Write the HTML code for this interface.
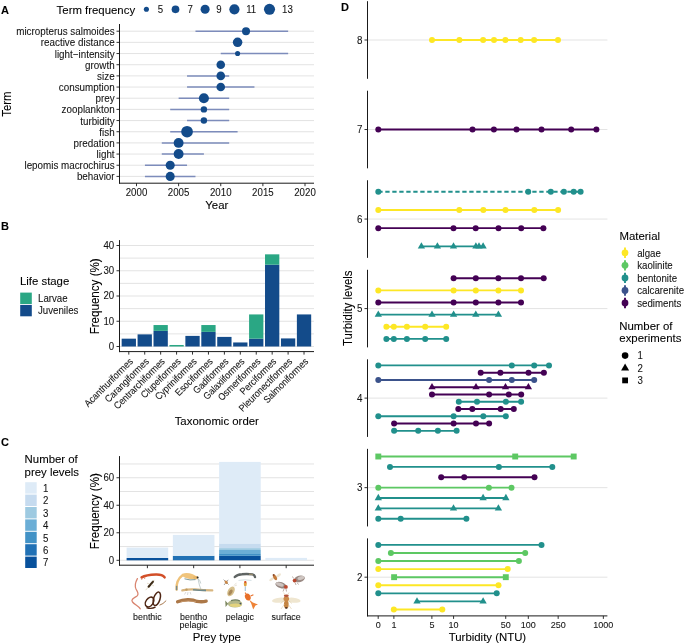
<!DOCTYPE html>
<html><head><meta charset="utf-8"><style>
html,body{margin:0;padding:0;background:#fff;}
svg{display:block;font-family:"Liberation Sans", sans-serif;will-change:transform;-webkit-font-smoothing:antialiased;}
</style></head><body>
<svg width="685" height="644" viewBox="0 0 685 644">
<rect width="685" height="644" fill="#fff"/>
<text transform="translate(1.00,13.90) scale(1,1.0)" font-size="11.0" text-anchor="start" fill="#000" font-weight="bold" stroke="#000" stroke-width="0.08" >A</text>
<text transform="translate(1.00,229.70) scale(1,1.0)" font-size="11.0" text-anchor="start" fill="#000" font-weight="bold" stroke="#000" stroke-width="0.08" >B</text>
<text transform="translate(1.00,445.70) scale(1,1.0)" font-size="11.0" text-anchor="start" fill="#000" font-weight="bold" stroke="#000" stroke-width="0.08" >C</text>
<text transform="translate(341.00,10.60) scale(1,1.0)" font-size="11.0" text-anchor="start" fill="#000" font-weight="bold" stroke="#000" stroke-width="0.08" >D</text>
<line x1="119.50" y1="31.20" x2="314.00" y2="31.20" stroke="#dcdcdc" stroke-width="0.8" />
<line x1="119.50" y1="42.37" x2="314.00" y2="42.37" stroke="#dcdcdc" stroke-width="0.8" />
<line x1="119.50" y1="53.54" x2="314.00" y2="53.54" stroke="#dcdcdc" stroke-width="0.8" />
<line x1="119.50" y1="64.71" x2="314.00" y2="64.71" stroke="#dcdcdc" stroke-width="0.8" />
<line x1="119.50" y1="75.88" x2="314.00" y2="75.88" stroke="#dcdcdc" stroke-width="0.8" />
<line x1="119.50" y1="87.05" x2="314.00" y2="87.05" stroke="#dcdcdc" stroke-width="0.8" />
<line x1="119.50" y1="98.22" x2="314.00" y2="98.22" stroke="#dcdcdc" stroke-width="0.8" />
<line x1="119.50" y1="109.39" x2="314.00" y2="109.39" stroke="#dcdcdc" stroke-width="0.8" />
<line x1="119.50" y1="120.56" x2="314.00" y2="120.56" stroke="#dcdcdc" stroke-width="0.8" />
<line x1="119.50" y1="131.73" x2="314.00" y2="131.73" stroke="#dcdcdc" stroke-width="0.8" />
<line x1="119.50" y1="142.90" x2="314.00" y2="142.90" stroke="#dcdcdc" stroke-width="0.8" />
<line x1="119.50" y1="154.07" x2="314.00" y2="154.07" stroke="#dcdcdc" stroke-width="0.8" />
<line x1="119.50" y1="165.24" x2="314.00" y2="165.24" stroke="#dcdcdc" stroke-width="0.8" />
<line x1="119.50" y1="176.41" x2="314.00" y2="176.41" stroke="#dcdcdc" stroke-width="0.8" />
<line x1="195.48" y1="31.20" x2="288.15" y2="31.20" stroke="#7d8cbb" stroke-width="1.5" />
<circle cx="246.03" cy="31.20" r="4.00" fill="#134b8a"/>
<text transform="translate(114.60,35.20) scale(1,1.12)" font-size="9.85" text-anchor="end" fill="#141414" font-weight="normal" stroke="#141414" stroke-width="0.08" >micropterus salmoides</text>
<line x1="116.50" y1="31.20" x2="119.50" y2="31.20" stroke="#1a1a1a" stroke-width="0.9" />
<circle cx="237.60" cy="42.37" r="4.75" fill="#134b8a"/>
<text transform="translate(114.60,46.37) scale(1,1.12)" font-size="9.85" text-anchor="end" fill="#141414" font-weight="normal" stroke="#141414" stroke-width="0.08" >reactive distance</text>
<line x1="116.50" y1="42.37" x2="119.50" y2="42.37" stroke="#1a1a1a" stroke-width="0.9" />
<line x1="220.75" y1="53.54" x2="288.15" y2="53.54" stroke="#7d8cbb" stroke-width="1.5" />
<circle cx="237.60" cy="53.54" r="2.55" fill="#134b8a"/>
<text transform="translate(114.60,57.54) scale(1,1.12)" font-size="9.85" text-anchor="end" fill="#141414" font-weight="normal" stroke="#141414" stroke-width="0.08" >light−intensity</text>
<line x1="116.50" y1="53.54" x2="119.50" y2="53.54" stroke="#1a1a1a" stroke-width="0.9" />
<circle cx="220.75" cy="64.71" r="4.30" fill="#134b8a"/>
<text transform="translate(114.60,68.71) scale(1,1.12)" font-size="9.85" text-anchor="end" fill="#141414" font-weight="normal" stroke="#141414" stroke-width="0.08" >growth</text>
<line x1="116.50" y1="64.71" x2="119.50" y2="64.71" stroke="#1a1a1a" stroke-width="0.9" />
<line x1="187.05" y1="75.88" x2="229.18" y2="75.88" stroke="#7d8cbb" stroke-width="1.5" />
<circle cx="220.75" cy="75.88" r="4.30" fill="#134b8a"/>
<text transform="translate(114.60,79.88) scale(1,1.12)" font-size="9.85" text-anchor="end" fill="#141414" font-weight="normal" stroke="#141414" stroke-width="0.08" >size</text>
<line x1="116.50" y1="75.88" x2="119.50" y2="75.88" stroke="#1a1a1a" stroke-width="0.9" />
<line x1="187.05" y1="87.05" x2="254.45" y2="87.05" stroke="#7d8cbb" stroke-width="1.5" />
<circle cx="220.75" cy="87.05" r="4.30" fill="#134b8a"/>
<text transform="translate(114.60,91.05) scale(1,1.12)" font-size="9.85" text-anchor="end" fill="#141414" font-weight="normal" stroke="#141414" stroke-width="0.08" >consumption</text>
<line x1="116.50" y1="87.05" x2="119.50" y2="87.05" stroke="#1a1a1a" stroke-width="0.9" />
<line x1="178.62" y1="98.22" x2="229.18" y2="98.22" stroke="#7d8cbb" stroke-width="1.5" />
<circle cx="203.90" cy="98.22" r="5.05" fill="#134b8a"/>
<text transform="translate(114.60,102.22) scale(1,1.12)" font-size="9.85" text-anchor="end" fill="#141414" font-weight="normal" stroke="#141414" stroke-width="0.08" >prey</text>
<line x1="116.50" y1="98.22" x2="119.50" y2="98.22" stroke="#1a1a1a" stroke-width="0.9" />
<line x1="170.20" y1="109.39" x2="229.18" y2="109.39" stroke="#7d8cbb" stroke-width="1.5" />
<circle cx="203.90" cy="109.39" r="3.20" fill="#134b8a"/>
<text transform="translate(114.60,113.39) scale(1,1.12)" font-size="9.85" text-anchor="end" fill="#141414" font-weight="normal" stroke="#141414" stroke-width="0.08" >zooplankton</text>
<line x1="116.50" y1="109.39" x2="119.50" y2="109.39" stroke="#1a1a1a" stroke-width="0.9" />
<line x1="187.05" y1="120.56" x2="229.18" y2="120.56" stroke="#7d8cbb" stroke-width="1.5" />
<circle cx="203.90" cy="120.56" r="3.20" fill="#134b8a"/>
<text transform="translate(114.60,124.56) scale(1,1.12)" font-size="9.85" text-anchor="end" fill="#141414" font-weight="normal" stroke="#141414" stroke-width="0.08" >turbidity</text>
<line x1="116.50" y1="120.56" x2="119.50" y2="120.56" stroke="#1a1a1a" stroke-width="0.9" />
<line x1="170.20" y1="131.73" x2="237.60" y2="131.73" stroke="#7d8cbb" stroke-width="1.5" />
<circle cx="187.05" cy="131.73" r="5.85" fill="#134b8a"/>
<text transform="translate(114.60,135.73) scale(1,1.12)" font-size="9.85" text-anchor="end" fill="#141414" font-weight="normal" stroke="#141414" stroke-width="0.08" >fish</text>
<line x1="116.50" y1="131.73" x2="119.50" y2="131.73" stroke="#1a1a1a" stroke-width="0.9" />
<line x1="161.78" y1="142.90" x2="229.18" y2="142.90" stroke="#7d8cbb" stroke-width="1.5" />
<circle cx="178.62" cy="142.90" r="4.95" fill="#134b8a"/>
<text transform="translate(114.60,146.90) scale(1,1.12)" font-size="9.85" text-anchor="end" fill="#141414" font-weight="normal" stroke="#141414" stroke-width="0.08" >predation</text>
<line x1="116.50" y1="142.90" x2="119.50" y2="142.90" stroke="#1a1a1a" stroke-width="0.9" />
<line x1="161.78" y1="154.07" x2="203.90" y2="154.07" stroke="#7d8cbb" stroke-width="1.5" />
<circle cx="178.62" cy="154.07" r="4.95" fill="#134b8a"/>
<text transform="translate(114.60,158.07) scale(1,1.12)" font-size="9.85" text-anchor="end" fill="#141414" font-weight="normal" stroke="#141414" stroke-width="0.08" >light</text>
<line x1="116.50" y1="154.07" x2="119.50" y2="154.07" stroke="#1a1a1a" stroke-width="0.9" />
<line x1="144.93" y1="165.24" x2="187.05" y2="165.24" stroke="#7d8cbb" stroke-width="1.5" />
<circle cx="170.20" cy="165.24" r="4.55" fill="#134b8a"/>
<text transform="translate(114.60,169.24) scale(1,1.12)" font-size="9.85" text-anchor="end" fill="#141414" font-weight="normal" stroke="#141414" stroke-width="0.08" >lepomis macrochirus</text>
<line x1="116.50" y1="165.24" x2="119.50" y2="165.24" stroke="#1a1a1a" stroke-width="0.9" />
<line x1="144.93" y1="176.41" x2="195.48" y2="176.41" stroke="#7d8cbb" stroke-width="1.5" />
<circle cx="170.20" cy="176.41" r="4.55" fill="#134b8a"/>
<text transform="translate(114.60,180.41) scale(1,1.12)" font-size="9.85" text-anchor="end" fill="#141414" font-weight="normal" stroke="#141414" stroke-width="0.08" >behavior</text>
<line x1="116.50" y1="176.41" x2="119.50" y2="176.41" stroke="#1a1a1a" stroke-width="0.9" />
<line x1="119.50" y1="24.00" x2="119.50" y2="183.70" stroke="#1a1a1a" stroke-width="1.0" />
<line x1="119.00" y1="183.20" x2="314.00" y2="183.20" stroke="#1a1a1a" stroke-width="1.0" />
<line x1="136.50" y1="183.20" x2="136.50" y2="186.20" stroke="#1a1a1a" stroke-width="0.9" />
<text transform="translate(136.50,195.80) scale(1,1.12)" font-size="9.7" text-anchor="middle" fill="#141414" font-weight="normal" stroke="#141414" stroke-width="0.08" >2000</text>
<line x1="178.62" y1="183.20" x2="178.62" y2="186.20" stroke="#1a1a1a" stroke-width="0.9" />
<text transform="translate(178.62,195.80) scale(1,1.12)" font-size="9.7" text-anchor="middle" fill="#141414" font-weight="normal" stroke="#141414" stroke-width="0.08" >2005</text>
<line x1="220.75" y1="183.20" x2="220.75" y2="186.20" stroke="#1a1a1a" stroke-width="0.9" />
<text transform="translate(220.75,195.80) scale(1,1.12)" font-size="9.7" text-anchor="middle" fill="#141414" font-weight="normal" stroke="#141414" stroke-width="0.08" >2010</text>
<line x1="262.88" y1="183.20" x2="262.88" y2="186.20" stroke="#1a1a1a" stroke-width="0.9" />
<text transform="translate(262.88,195.80) scale(1,1.12)" font-size="9.7" text-anchor="middle" fill="#141414" font-weight="normal" stroke="#141414" stroke-width="0.08" >2015</text>
<line x1="305.00" y1="183.20" x2="305.00" y2="186.20" stroke="#1a1a1a" stroke-width="0.9" />
<text transform="translate(305.00,195.80) scale(1,1.12)" font-size="9.7" text-anchor="middle" fill="#141414" font-weight="normal" stroke="#141414" stroke-width="0.08" >2020</text>
<text transform="translate(216.75,209.00) scale(1,1.0)" font-size="11.4" text-anchor="middle" fill="#000" font-weight="normal" stroke="#000" stroke-width="0.08" >Year</text>
<text transform="translate(10.6,104.1) rotate(-90) scale(1,1.12)" font-size="11.4" text-anchor="middle" fill="#000" stroke="#000" stroke-width="0.08">Term</text>
<text transform="translate(56.60,13.80) scale(1,1.0)" font-size="11.4" text-anchor="start" fill="#000" font-weight="normal" stroke="#000" stroke-width="0.08" >Term frequency</text>
<circle cx="146.40" cy="9.30" r="2.55" fill="#134b8a"/>
<text transform="translate(157.80,13.00) scale(1,1.12)" font-size="9.7" text-anchor="start" fill="#141414" font-weight="normal" stroke="#141414" stroke-width="0.08" >5</text>
<circle cx="175.50" cy="9.30" r="3.85" fill="#134b8a"/>
<text transform="translate(187.40,13.00) scale(1,1.12)" font-size="9.7" text-anchor="start" fill="#141414" font-weight="normal" stroke="#141414" stroke-width="0.08" >7</text>
<circle cx="205.10" cy="9.30" r="4.53" fill="#134b8a"/>
<text transform="translate(216.30,13.00) scale(1,1.12)" font-size="9.7" text-anchor="start" fill="#141414" font-weight="normal" stroke="#141414" stroke-width="0.08" >9</text>
<circle cx="234.40" cy="9.30" r="5.10" fill="#134b8a"/>
<text transform="translate(246.20,13.00) scale(1,1.12)" font-size="9.7" text-anchor="start" fill="#141414" font-weight="normal" stroke="#141414" stroke-width="0.08" >11</text>
<circle cx="269.50" cy="9.30" r="5.55" fill="#134b8a"/>
<text transform="translate(282.00,13.00) scale(1,1.12)" font-size="9.7" text-anchor="start" fill="#141414" font-weight="normal" stroke="#141414" stroke-width="0.08" >13</text>
<line x1="119.50" y1="346.50" x2="314.00" y2="346.50" stroke="#dcdcdc" stroke-width="0.8" />
<line x1="119.50" y1="333.88" x2="314.00" y2="333.88" stroke="#dcdcdc" stroke-width="0.8" />
<line x1="119.50" y1="321.25" x2="314.00" y2="321.25" stroke="#dcdcdc" stroke-width="0.8" />
<line x1="119.50" y1="308.62" x2="314.00" y2="308.62" stroke="#dcdcdc" stroke-width="0.8" />
<line x1="119.50" y1="296.00" x2="314.00" y2="296.00" stroke="#dcdcdc" stroke-width="0.8" />
<line x1="119.50" y1="283.38" x2="314.00" y2="283.38" stroke="#dcdcdc" stroke-width="0.8" />
<line x1="119.50" y1="270.75" x2="314.00" y2="270.75" stroke="#dcdcdc" stroke-width="0.8" />
<line x1="119.50" y1="258.12" x2="314.00" y2="258.12" stroke="#dcdcdc" stroke-width="0.8" />
<line x1="119.50" y1="245.50" x2="314.00" y2="245.50" stroke="#dcdcdc" stroke-width="0.8" />
<rect x="121.65" y="338.67" width="14.30" height="7.83" fill="#134b8a"/>
<rect x="137.58" y="334.38" width="14.30" height="12.12" fill="#134b8a"/>
<rect x="153.51" y="330.85" width="14.30" height="15.65" fill="#134b8a"/>
<rect x="153.51" y="325.04" width="14.30" height="5.81" fill="#2aa784"/>
<rect x="169.44" y="344.99" width="14.30" height="1.51" fill="#2aa784"/>
<rect x="185.37" y="335.89" width="14.30" height="10.61" fill="#134b8a"/>
<rect x="201.30" y="331.86" width="14.30" height="14.64" fill="#134b8a"/>
<rect x="201.30" y="325.04" width="14.30" height="6.82" fill="#2aa784"/>
<rect x="217.23" y="336.90" width="14.30" height="9.60" fill="#134b8a"/>
<rect x="233.16" y="342.46" width="14.30" height="4.04" fill="#134b8a"/>
<rect x="249.09" y="338.67" width="14.30" height="7.83" fill="#134b8a"/>
<rect x="249.09" y="314.43" width="14.30" height="24.24" fill="#2aa784"/>
<rect x="265.02" y="264.69" width="14.30" height="81.81" fill="#134b8a"/>
<rect x="265.02" y="254.34" width="14.30" height="10.35" fill="#2aa784"/>
<rect x="280.95" y="338.42" width="14.30" height="8.08" fill="#134b8a"/>
<rect x="296.88" y="314.43" width="14.30" height="32.07" fill="#134b8a"/>
<line x1="116.50" y1="346.50" x2="119.50" y2="346.50" stroke="#1a1a1a" stroke-width="0.9" />
<text transform="translate(114.20,349.90) scale(1,1.12)" font-size="9.7" text-anchor="end" fill="#141414" font-weight="normal" stroke="#141414" stroke-width="0.08" >0</text>
<line x1="116.50" y1="321.25" x2="119.50" y2="321.25" stroke="#1a1a1a" stroke-width="0.9" />
<text transform="translate(114.20,324.65) scale(1,1.12)" font-size="9.7" text-anchor="end" fill="#141414" font-weight="normal" stroke="#141414" stroke-width="0.08" >10</text>
<line x1="116.50" y1="296.00" x2="119.50" y2="296.00" stroke="#1a1a1a" stroke-width="0.9" />
<text transform="translate(114.20,299.40) scale(1,1.12)" font-size="9.7" text-anchor="end" fill="#141414" font-weight="normal" stroke="#141414" stroke-width="0.08" >20</text>
<line x1="116.50" y1="270.75" x2="119.50" y2="270.75" stroke="#1a1a1a" stroke-width="0.9" />
<text transform="translate(114.20,274.15) scale(1,1.12)" font-size="9.7" text-anchor="end" fill="#141414" font-weight="normal" stroke="#141414" stroke-width="0.08" >30</text>
<line x1="116.50" y1="245.50" x2="119.50" y2="245.50" stroke="#1a1a1a" stroke-width="0.9" />
<text transform="translate(114.20,248.90) scale(1,1.12)" font-size="9.7" text-anchor="end" fill="#141414" font-weight="normal" stroke="#141414" stroke-width="0.08" >40</text>
<line x1="119.50" y1="240.10" x2="119.50" y2="352.10" stroke="#1a1a1a" stroke-width="1.0" />
<line x1="119.00" y1="351.60" x2="314.00" y2="351.60" stroke="#1a1a1a" stroke-width="1.0" />
<line x1="128.80" y1="351.60" x2="128.80" y2="354.60" stroke="#1a1a1a" stroke-width="0.9" />
<text transform="translate(133.60,362.20) rotate(-45) scale(1,1.12)" font-size="8.8" text-anchor="end" fill="#141414" stroke="#141414" stroke-width="0.08">Acanthuriformes</text>
<line x1="144.73" y1="351.60" x2="144.73" y2="354.60" stroke="#1a1a1a" stroke-width="0.9" />
<text transform="translate(149.53,362.20) rotate(-45) scale(1,1.12)" font-size="8.8" text-anchor="end" fill="#141414" stroke="#141414" stroke-width="0.08">Carangiformes</text>
<line x1="160.66" y1="351.60" x2="160.66" y2="354.60" stroke="#1a1a1a" stroke-width="0.9" />
<text transform="translate(165.46,362.20) rotate(-45) scale(1,1.12)" font-size="8.8" text-anchor="end" fill="#141414" stroke="#141414" stroke-width="0.08">Centrarchiformes</text>
<line x1="176.59" y1="351.60" x2="176.59" y2="354.60" stroke="#1a1a1a" stroke-width="0.9" />
<text transform="translate(181.39,362.20) rotate(-45) scale(1,1.12)" font-size="8.8" text-anchor="end" fill="#141414" stroke="#141414" stroke-width="0.08">Clupeiformes</text>
<line x1="192.52" y1="351.60" x2="192.52" y2="354.60" stroke="#1a1a1a" stroke-width="0.9" />
<text transform="translate(197.32,362.20) rotate(-45) scale(1,1.12)" font-size="8.8" text-anchor="end" fill="#141414" stroke="#141414" stroke-width="0.08">Cypriniformes</text>
<line x1="208.45" y1="351.60" x2="208.45" y2="354.60" stroke="#1a1a1a" stroke-width="0.9" />
<text transform="translate(213.25,362.20) rotate(-45) scale(1,1.12)" font-size="8.8" text-anchor="end" fill="#141414" stroke="#141414" stroke-width="0.08">Esociformes</text>
<line x1="224.38" y1="351.60" x2="224.38" y2="354.60" stroke="#1a1a1a" stroke-width="0.9" />
<text transform="translate(229.18,362.20) rotate(-45) scale(1,1.12)" font-size="8.8" text-anchor="end" fill="#141414" stroke="#141414" stroke-width="0.08">Gadiformes</text>
<line x1="240.31" y1="351.60" x2="240.31" y2="354.60" stroke="#1a1a1a" stroke-width="0.9" />
<text transform="translate(245.11,362.20) rotate(-45) scale(1,1.12)" font-size="8.8" text-anchor="end" fill="#141414" stroke="#141414" stroke-width="0.08">Galaxiiformes</text>
<line x1="256.24" y1="351.60" x2="256.24" y2="354.60" stroke="#1a1a1a" stroke-width="0.9" />
<text transform="translate(261.04,362.20) rotate(-45) scale(1,1.12)" font-size="8.8" text-anchor="end" fill="#141414" stroke="#141414" stroke-width="0.08">Osmeriformes</text>
<line x1="272.17" y1="351.60" x2="272.17" y2="354.60" stroke="#1a1a1a" stroke-width="0.9" />
<text transform="translate(276.97,362.20) rotate(-45) scale(1,1.12)" font-size="8.8" text-anchor="end" fill="#141414" stroke="#141414" stroke-width="0.08">Perciformes</text>
<line x1="288.10" y1="351.60" x2="288.10" y2="354.60" stroke="#1a1a1a" stroke-width="0.9" />
<text transform="translate(292.90,362.20) rotate(-45) scale(1,1.12)" font-size="8.8" text-anchor="end" fill="#141414" stroke="#141414" stroke-width="0.08">Pleuronectiformes</text>
<line x1="304.03" y1="351.60" x2="304.03" y2="354.60" stroke="#1a1a1a" stroke-width="0.9" />
<text transform="translate(308.83,362.20) rotate(-45) scale(1,1.12)" font-size="8.8" text-anchor="end" fill="#141414" stroke="#141414" stroke-width="0.08">Salmoniformes</text>
<text transform="translate(216.75,425.20) scale(1,1.0)" font-size="11.4" text-anchor="middle" fill="#000" font-weight="normal" stroke="#000" stroke-width="0.08" >Taxonomic order</text>
<text transform="translate(98.6,296.35) rotate(-90) scale(1,1.08)" font-size="11.6" text-anchor="middle" fill="#000" stroke="#000" stroke-width="0.08">Frequency (%)</text>
<text transform="translate(19.90,284.80) scale(1,1.0)" font-size="11.4" text-anchor="start" fill="#000" font-weight="normal" stroke="#000" stroke-width="0.08" >Life stage</text>
<rect x="20.20" y="292.60" width="11.60" height="11.40" fill="#2aa784"/>
<rect x="20.20" y="304.90" width="11.60" height="11.40" fill="#134b8a"/>
<text transform="translate(38.00,301.60) scale(1,1.12)" font-size="9.7" text-anchor="start" fill="#141414" font-weight="normal" stroke="#141414" stroke-width="0.08" >Larvae</text>
<text transform="translate(38.00,313.80) scale(1,1.12)" font-size="9.7" text-anchor="start" fill="#141414" font-weight="normal" stroke="#141414" stroke-width="0.08" >Juveniles</text>
<line x1="119.50" y1="560.30" x2="314.00" y2="560.30" stroke="#dcdcdc" stroke-width="0.8" />
<line x1="119.50" y1="546.54" x2="314.00" y2="546.54" stroke="#dcdcdc" stroke-width="0.8" />
<line x1="119.50" y1="532.78" x2="314.00" y2="532.78" stroke="#dcdcdc" stroke-width="0.8" />
<line x1="119.50" y1="519.02" x2="314.00" y2="519.02" stroke="#dcdcdc" stroke-width="0.8" />
<line x1="119.50" y1="505.26" x2="314.00" y2="505.26" stroke="#dcdcdc" stroke-width="0.8" />
<line x1="119.50" y1="491.50" x2="314.00" y2="491.50" stroke="#dcdcdc" stroke-width="0.8" />
<line x1="119.50" y1="477.74" x2="314.00" y2="477.74" stroke="#dcdcdc" stroke-width="0.8" />
<line x1="119.50" y1="463.98" x2="314.00" y2="463.98" stroke="#dcdcdc" stroke-width="0.8" />
<rect x="126.60" y="558.00" width="41.60" height="2.30" fill="#08519c"/>
<rect x="126.60" y="547.60" width="41.60" height="10.40" fill="#deebf7"/>
<rect x="172.86" y="555.80" width="41.60" height="4.50" fill="#2171b5"/>
<rect x="172.86" y="534.90" width="41.60" height="20.90" fill="#deebf7"/>
<rect x="219.12" y="555.80" width="41.60" height="4.50" fill="#08519c"/>
<rect x="219.12" y="554.00" width="41.60" height="1.80" fill="#4292c6"/>
<rect x="219.12" y="550.00" width="41.60" height="4.00" fill="#6baed6"/>
<rect x="219.12" y="548.10" width="41.60" height="1.90" fill="#9ecae1"/>
<rect x="219.12" y="543.40" width="41.60" height="4.70" fill="#c6dbef"/>
<rect x="219.12" y="461.90" width="41.60" height="81.50" fill="#deebf7"/>
<rect x="265.38" y="557.90" width="41.60" height="2.40" fill="#deebf7"/>
<line x1="116.50" y1="560.30" x2="119.50" y2="560.30" stroke="#1a1a1a" stroke-width="0.9" />
<text transform="translate(114.20,563.70) scale(1,1.12)" font-size="9.7" text-anchor="end" fill="#141414" font-weight="normal" stroke="#141414" stroke-width="0.08" >0</text>
<line x1="116.50" y1="532.78" x2="119.50" y2="532.78" stroke="#1a1a1a" stroke-width="0.9" />
<text transform="translate(114.20,536.18) scale(1,1.12)" font-size="9.7" text-anchor="end" fill="#141414" font-weight="normal" stroke="#141414" stroke-width="0.08" >20</text>
<line x1="116.50" y1="505.26" x2="119.50" y2="505.26" stroke="#1a1a1a" stroke-width="0.9" />
<text transform="translate(114.20,508.66) scale(1,1.12)" font-size="9.7" text-anchor="end" fill="#141414" font-weight="normal" stroke="#141414" stroke-width="0.08" >40</text>
<line x1="116.50" y1="477.74" x2="119.50" y2="477.74" stroke="#1a1a1a" stroke-width="0.9" />
<text transform="translate(114.20,481.14) scale(1,1.12)" font-size="9.7" text-anchor="end" fill="#141414" font-weight="normal" stroke="#141414" stroke-width="0.08" >60</text>
<line x1="119.50" y1="456.10" x2="119.50" y2="565.70" stroke="#1a1a1a" stroke-width="1.0" />
<line x1="119.00" y1="565.20" x2="314.00" y2="565.20" stroke="#1a1a1a" stroke-width="1.0" />
<line x1="147.40" y1="565.20" x2="147.40" y2="568.20" stroke="#1a1a1a" stroke-width="0.9" />
<line x1="193.66" y1="565.20" x2="193.66" y2="568.20" stroke="#1a1a1a" stroke-width="0.9" />
<line x1="239.92" y1="565.20" x2="239.92" y2="568.20" stroke="#1a1a1a" stroke-width="0.9" />
<line x1="286.18" y1="565.20" x2="286.18" y2="568.20" stroke="#1a1a1a" stroke-width="0.9" />
<text transform="translate(147.40,619.60) scale(1,1.12)" font-size="8.9" text-anchor="middle" fill="#141414" font-weight="normal" stroke="#141414" stroke-width="0.08" >benthic</text>
<text transform="translate(193.66,619.50) scale(1,1.12)" font-size="8.9" text-anchor="middle" fill="#141414" font-weight="normal" stroke="#141414" stroke-width="0.08" >bentho</text>
<text transform="translate(193.66,628.10) scale(1,1.12)" font-size="8.9" text-anchor="middle" fill="#141414" font-weight="normal" stroke="#141414" stroke-width="0.08" >pelagic</text>
<text transform="translate(239.92,619.60) scale(1,1.12)" font-size="8.9" text-anchor="middle" fill="#141414" font-weight="normal" stroke="#141414" stroke-width="0.08" >pelagic</text>
<text transform="translate(286.18,619.60) scale(1,1.12)" font-size="8.9" text-anchor="middle" fill="#141414" font-weight="normal" stroke="#141414" stroke-width="0.08" >surface</text>
<text transform="translate(216.75,640.60) scale(1,1.0)" font-size="11.4" text-anchor="middle" fill="#000" font-weight="normal" stroke="#000" stroke-width="0.08" >Prey type</text>
<text transform="translate(98.6,511.15) rotate(-90) scale(1,1.08)" font-size="11.6" text-anchor="middle" fill="#000" stroke="#000" stroke-width="0.08">Frequency (%)</text>
<text transform="translate(24.60,462.70) scale(1,1.0)" font-size="11.4" text-anchor="start" fill="#000" font-weight="normal" stroke="#000" stroke-width="0.08" >Number of</text>
<text transform="translate(24.60,475.60) scale(1,1.0)" font-size="11.4" text-anchor="start" fill="#000" font-weight="normal" stroke="#000" stroke-width="0.08" >prey levels</text>
<rect x="25.20" y="482.20" width="11.50" height="11.40" fill="#deebf7"/>
<text transform="translate(43.00,491.90) scale(1,1.12)" font-size="9.7" text-anchor="start" fill="#141414" font-weight="normal" stroke="#141414" stroke-width="0.08" >1</text>
<rect x="25.20" y="494.60" width="11.50" height="11.40" fill="#c6dbef"/>
<text transform="translate(43.00,504.30) scale(1,1.12)" font-size="9.7" text-anchor="start" fill="#141414" font-weight="normal" stroke="#141414" stroke-width="0.08" >2</text>
<rect x="25.20" y="507.00" width="11.50" height="11.40" fill="#9ecae1"/>
<text transform="translate(43.00,516.70) scale(1,1.12)" font-size="9.7" text-anchor="start" fill="#141414" font-weight="normal" stroke="#141414" stroke-width="0.08" >3</text>
<rect x="25.20" y="519.40" width="11.50" height="11.40" fill="#6baed6"/>
<text transform="translate(43.00,529.10) scale(1,1.12)" font-size="9.7" text-anchor="start" fill="#141414" font-weight="normal" stroke="#141414" stroke-width="0.08" >4</text>
<rect x="25.20" y="531.80" width="11.50" height="11.40" fill="#4292c6"/>
<text transform="translate(43.00,541.50) scale(1,1.12)" font-size="9.7" text-anchor="start" fill="#141414" font-weight="normal" stroke="#141414" stroke-width="0.08" >5</text>
<rect x="25.20" y="544.20" width="11.50" height="11.40" fill="#2171b5"/>
<text transform="translate(43.00,553.90) scale(1,1.12)" font-size="9.7" text-anchor="start" fill="#141414" font-weight="normal" stroke="#141414" stroke-width="0.08" >6</text>
<rect x="25.20" y="556.60" width="11.50" height="11.40" fill="#08519c"/>
<text transform="translate(43.00,566.30) scale(1,1.12)" font-size="9.7" text-anchor="start" fill="#141414" font-weight="normal" stroke="#141414" stroke-width="0.08" >7</text>
<line x1="368.00" y1="40.00" x2="607.40" y2="40.00" stroke="#dcdcdc" stroke-width="0.8" />
<line x1="368.00" y1="129.53" x2="607.40" y2="129.53" stroke="#dcdcdc" stroke-width="0.8" />
<line x1="368.00" y1="219.06" x2="607.40" y2="219.06" stroke="#dcdcdc" stroke-width="0.8" />
<line x1="368.00" y1="308.59" x2="607.40" y2="308.59" stroke="#dcdcdc" stroke-width="0.8" />
<line x1="368.00" y1="398.12" x2="607.40" y2="398.12" stroke="#dcdcdc" stroke-width="0.8" />
<line x1="368.00" y1="487.65" x2="607.40" y2="487.65" stroke="#dcdcdc" stroke-width="0.8" />
<line x1="368.00" y1="577.18" x2="607.40" y2="577.18" stroke="#dcdcdc" stroke-width="0.8" />
<line x1="432.00" y1="40.00" x2="558.00" y2="40.00" stroke="#fde725" stroke-width="1.9" />
<circle cx="432.00" cy="40.00" r="3.00" fill="#fde725"/>
<circle cx="459.40" cy="40.00" r="3.00" fill="#fde725"/>
<circle cx="483.10" cy="40.00" r="3.00" fill="#fde725"/>
<circle cx="494.00" cy="40.00" r="3.00" fill="#fde725"/>
<circle cx="505.40" cy="40.00" r="3.00" fill="#fde725"/>
<circle cx="520.70" cy="40.00" r="3.00" fill="#fde725"/>
<circle cx="534.10" cy="40.00" r="3.00" fill="#fde725"/>
<circle cx="558.00" cy="40.00" r="3.00" fill="#fde725"/>
<line x1="378.30" y1="129.53" x2="596.40" y2="129.53" stroke="#440154" stroke-width="1.9" />
<circle cx="378.30" cy="129.53" r="3.00" fill="#440154"/>
<circle cx="472.50" cy="129.53" r="3.00" fill="#440154"/>
<circle cx="493.90" cy="129.53" r="3.00" fill="#440154"/>
<circle cx="516.50" cy="129.53" r="3.00" fill="#440154"/>
<circle cx="541.50" cy="129.53" r="3.00" fill="#440154"/>
<circle cx="571.20" cy="129.53" r="3.00" fill="#440154"/>
<circle cx="596.40" cy="129.53" r="3.00" fill="#440154"/>
<line x1="378.30" y1="191.76" x2="580.60" y2="191.76" stroke="#21908c" stroke-width="1.9" stroke-dasharray="4.3 2.7"/>
<circle cx="378.30" cy="191.76" r="3.00" fill="#21908c"/>
<circle cx="528.20" cy="191.76" r="3.00" fill="#21908c"/>
<circle cx="550.80" cy="191.76" r="3.00" fill="#21908c"/>
<circle cx="563.90" cy="191.76" r="3.00" fill="#21908c"/>
<circle cx="573.70" cy="191.76" r="3.00" fill="#21908c"/>
<circle cx="580.60" cy="191.76" r="3.00" fill="#21908c"/>
<line x1="378.30" y1="209.96" x2="558.10" y2="209.96" stroke="#fde725" stroke-width="1.9" />
<circle cx="378.30" cy="209.96" r="3.00" fill="#fde725"/>
<circle cx="459.30" cy="209.96" r="3.00" fill="#fde725"/>
<circle cx="483.30" cy="209.96" r="3.00" fill="#fde725"/>
<circle cx="505.50" cy="209.96" r="3.00" fill="#fde725"/>
<circle cx="534.30" cy="209.96" r="3.00" fill="#fde725"/>
<circle cx="558.10" cy="209.96" r="3.00" fill="#fde725"/>
<line x1="378.30" y1="228.16" x2="543.40" y2="228.16" stroke="#440154" stroke-width="1.9" />
<circle cx="378.30" cy="228.16" r="3.00" fill="#440154"/>
<circle cx="453.50" cy="228.16" r="3.00" fill="#440154"/>
<circle cx="475.70" cy="228.16" r="3.00" fill="#440154"/>
<circle cx="498.50" cy="228.16" r="3.00" fill="#440154"/>
<circle cx="521.20" cy="228.16" r="3.00" fill="#440154"/>
<circle cx="543.40" cy="228.16" r="3.00" fill="#440154"/>
<line x1="421.40" y1="246.36" x2="483.10" y2="246.36" stroke="#21908c" stroke-width="1.9" />
<polygon points="421.40,242.16 425.04,248.46 417.76,248.46" fill="#21908c"/>
<polygon points="437.40,242.16 441.04,248.46 433.76,248.46" fill="#21908c"/>
<polygon points="453.50,242.16 457.14,248.46 449.86,248.46" fill="#21908c"/>
<polygon points="475.90,242.16 479.54,248.46 472.26,248.46" fill="#21908c"/>
<polygon points="479.00,242.16 482.64,248.46 475.36,248.46" fill="#21908c"/>
<polygon points="483.10,242.16 486.74,248.46 479.46,248.46" fill="#21908c"/>
<line x1="453.60" y1="278.29" x2="543.70" y2="278.29" stroke="#440154" stroke-width="1.9" />
<circle cx="453.60" cy="278.29" r="3.00" fill="#440154"/>
<circle cx="475.80" cy="278.29" r="3.00" fill="#440154"/>
<circle cx="498.40" cy="278.29" r="3.00" fill="#440154"/>
<circle cx="521.00" cy="278.29" r="3.00" fill="#440154"/>
<circle cx="543.70" cy="278.29" r="3.00" fill="#440154"/>
<line x1="378.30" y1="290.41" x2="521.00" y2="290.41" stroke="#fde725" stroke-width="1.9" />
<circle cx="378.30" cy="290.41" r="3.00" fill="#fde725"/>
<circle cx="453.60" cy="290.41" r="3.00" fill="#fde725"/>
<circle cx="475.80" cy="290.41" r="3.00" fill="#fde725"/>
<circle cx="498.40" cy="290.41" r="3.00" fill="#fde725"/>
<circle cx="521.00" cy="290.41" r="3.00" fill="#fde725"/>
<line x1="378.30" y1="302.53" x2="521.00" y2="302.53" stroke="#440154" stroke-width="1.9" />
<circle cx="378.30" cy="302.53" r="3.00" fill="#440154"/>
<circle cx="453.60" cy="302.53" r="3.00" fill="#440154"/>
<circle cx="475.80" cy="302.53" r="3.00" fill="#440154"/>
<circle cx="498.40" cy="302.53" r="3.00" fill="#440154"/>
<circle cx="521.00" cy="302.53" r="3.00" fill="#440154"/>
<line x1="378.30" y1="314.65" x2="498.40" y2="314.65" stroke="#21908c" stroke-width="1.9" />
<polygon points="378.30,310.45 381.94,316.75 374.66,316.75" fill="#21908c"/>
<polygon points="432.00,310.45 435.64,316.75 428.36,316.75" fill="#21908c"/>
<polygon points="453.60,310.45 457.24,316.75 449.96,316.75" fill="#21908c"/>
<polygon points="475.80,310.45 479.44,316.75 472.16,316.75" fill="#21908c"/>
<polygon points="498.40,310.45 502.04,316.75 494.76,316.75" fill="#21908c"/>
<line x1="386.40" y1="326.77" x2="446.20" y2="326.77" stroke="#fde725" stroke-width="1.9" />
<circle cx="386.40" cy="326.77" r="3.00" fill="#fde725"/>
<circle cx="393.80" cy="326.77" r="3.00" fill="#fde725"/>
<circle cx="406.90" cy="326.77" r="3.00" fill="#fde725"/>
<circle cx="425.20" cy="326.77" r="3.00" fill="#fde725"/>
<circle cx="446.20" cy="326.77" r="3.00" fill="#fde725"/>
<line x1="386.40" y1="338.89" x2="446.20" y2="338.89" stroke="#21908c" stroke-width="1.9" />
<circle cx="386.40" cy="338.89" r="3.00" fill="#21908c"/>
<circle cx="393.80" cy="338.89" r="3.00" fill="#21908c"/>
<circle cx="406.90" cy="338.89" r="3.00" fill="#21908c"/>
<circle cx="425.20" cy="338.89" r="3.00" fill="#21908c"/>
<circle cx="446.20" cy="338.89" r="3.00" fill="#21908c"/>
<line x1="378.30" y1="365.41" x2="549.00" y2="365.41" stroke="#21908c" stroke-width="1.9" />
<circle cx="378.30" cy="365.41" r="3.00" fill="#21908c"/>
<circle cx="511.80" cy="365.41" r="3.00" fill="#21908c"/>
<circle cx="534.20" cy="365.41" r="3.00" fill="#21908c"/>
<circle cx="549.00" cy="365.41" r="3.00" fill="#21908c"/>
<line x1="480.70" y1="372.68" x2="543.90" y2="372.68" stroke="#440154" stroke-width="1.9" />
<circle cx="480.70" cy="372.68" r="3.00" fill="#440154"/>
<circle cx="500.40" cy="372.68" r="3.00" fill="#440154"/>
<circle cx="528.50" cy="372.68" r="3.00" fill="#440154"/>
<circle cx="543.90" cy="372.68" r="3.00" fill="#440154"/>
<line x1="378.30" y1="379.94" x2="534.20" y2="379.94" stroke="#3b528b" stroke-width="1.9" />
<circle cx="378.30" cy="379.94" r="3.00" fill="#3b528b"/>
<circle cx="489.10" cy="379.94" r="3.00" fill="#3b528b"/>
<circle cx="511.80" cy="379.94" r="3.00" fill="#3b528b"/>
<circle cx="534.20" cy="379.94" r="3.00" fill="#3b528b"/>
<line x1="432.00" y1="387.22" x2="528.40" y2="387.22" stroke="#440154" stroke-width="1.9" />
<polygon points="432.00,383.02 435.64,389.31 428.36,389.31" fill="#440154"/>
<polygon points="476.00,383.02 479.64,389.31 472.36,389.31" fill="#440154"/>
<polygon points="505.50,383.02 509.14,389.31 501.86,389.31" fill="#440154"/>
<polygon points="528.40,383.02 532.04,389.31 524.76,389.31" fill="#440154"/>
<line x1="432.00" y1="394.49" x2="521.20" y2="394.49" stroke="#440154" stroke-width="1.9" />
<circle cx="432.00" cy="394.49" r="3.00" fill="#440154"/>
<circle cx="489.10" cy="394.49" r="3.00" fill="#440154"/>
<circle cx="508.80" cy="394.49" r="3.00" fill="#440154"/>
<circle cx="521.20" cy="394.49" r="3.00" fill="#440154"/>
<line x1="458.80" y1="401.75" x2="521.10" y2="401.75" stroke="#21908c" stroke-width="1.9" />
<circle cx="458.80" cy="401.75" r="3.00" fill="#21908c"/>
<circle cx="477.00" cy="401.75" r="3.00" fill="#21908c"/>
<circle cx="505.90" cy="401.75" r="3.00" fill="#21908c"/>
<circle cx="521.10" cy="401.75" r="3.00" fill="#21908c"/>
<line x1="458.30" y1="409.02" x2="513.80" y2="409.02" stroke="#440154" stroke-width="1.9" />
<circle cx="458.30" cy="409.02" r="3.00" fill="#440154"/>
<circle cx="472.30" cy="409.02" r="3.00" fill="#440154"/>
<circle cx="500.70" cy="409.02" r="3.00" fill="#440154"/>
<circle cx="513.80" cy="409.02" r="3.00" fill="#440154"/>
<line x1="378.30" y1="416.30" x2="505.80" y2="416.30" stroke="#21908c" stroke-width="1.9" />
<circle cx="378.30" cy="416.30" r="3.00" fill="#21908c"/>
<circle cx="453.60" cy="416.30" r="3.00" fill="#21908c"/>
<circle cx="483.30" cy="416.30" r="3.00" fill="#21908c"/>
<circle cx="505.80" cy="416.30" r="3.00" fill="#21908c"/>
<line x1="394.10" y1="423.56" x2="489.10" y2="423.56" stroke="#440154" stroke-width="1.9" />
<circle cx="394.10" cy="423.56" r="3.00" fill="#440154"/>
<circle cx="453.60" cy="423.56" r="3.00" fill="#440154"/>
<circle cx="476.00" cy="423.56" r="3.00" fill="#440154"/>
<circle cx="489.10" cy="423.56" r="3.00" fill="#440154"/>
<line x1="394.10" y1="430.83" x2="456.60" y2="430.83" stroke="#21908c" stroke-width="1.9" />
<circle cx="394.10" cy="430.83" r="3.00" fill="#21908c"/>
<circle cx="418.20" cy="430.83" r="3.00" fill="#21908c"/>
<circle cx="437.90" cy="430.83" r="3.00" fill="#21908c"/>
<circle cx="456.60" cy="430.83" r="3.00" fill="#21908c"/>
<line x1="378.30" y1="456.51" x2="573.70" y2="456.51" stroke="#5dc863" stroke-width="1.9" />
<rect x="375.35" y="453.56" width="5.90" height="5.90" fill="#5dc863"/>
<rect x="512.25" y="453.56" width="5.90" height="5.90" fill="#5dc863"/>
<rect x="570.75" y="453.56" width="5.90" height="5.90" fill="#5dc863"/>
<line x1="390.00" y1="466.89" x2="552.30" y2="466.89" stroke="#21908c" stroke-width="1.9" />
<circle cx="390.00" cy="466.89" r="3.00" fill="#21908c"/>
<circle cx="498.90" cy="466.89" r="3.00" fill="#21908c"/>
<circle cx="552.30" cy="466.89" r="3.00" fill="#21908c"/>
<line x1="441.20" y1="477.27" x2="534.50" y2="477.27" stroke="#440154" stroke-width="1.9" />
<circle cx="441.20" cy="477.27" r="3.00" fill="#440154"/>
<circle cx="464.20" cy="477.27" r="3.00" fill="#440154"/>
<circle cx="534.50" cy="477.27" r="3.00" fill="#440154"/>
<line x1="378.30" y1="487.65" x2="511.50" y2="487.65" stroke="#5dc863" stroke-width="1.9" />
<circle cx="378.30" cy="487.65" r="3.00" fill="#5dc863"/>
<circle cx="488.90" cy="487.65" r="3.00" fill="#5dc863"/>
<circle cx="511.50" cy="487.65" r="3.00" fill="#5dc863"/>
<line x1="378.30" y1="498.03" x2="505.90" y2="498.03" stroke="#21908c" stroke-width="1.9" />
<polygon points="378.30,493.83 381.94,500.13 374.66,500.13" fill="#21908c"/>
<polygon points="483.10,493.83 486.74,500.13 479.46,500.13" fill="#21908c"/>
<polygon points="505.90,493.83 509.54,500.13 502.26,500.13" fill="#21908c"/>
<line x1="378.30" y1="508.41" x2="498.40" y2="508.41" stroke="#21908c" stroke-width="1.9" />
<polygon points="378.30,504.21 381.94,510.51 374.66,510.51" fill="#21908c"/>
<polygon points="453.50,504.21 457.14,510.51 449.86,510.51" fill="#21908c"/>
<polygon points="498.40,504.21 502.04,510.51 494.76,510.51" fill="#21908c"/>
<line x1="378.30" y1="518.79" x2="466.40" y2="518.79" stroke="#21908c" stroke-width="1.9" />
<circle cx="378.30" cy="518.79" r="3.00" fill="#21908c"/>
<circle cx="400.70" cy="518.79" r="3.00" fill="#21908c"/>
<circle cx="466.40" cy="518.79" r="3.00" fill="#21908c"/>
<line x1="378.30" y1="544.88" x2="541.50" y2="544.88" stroke="#21908c" stroke-width="1.9" />
<circle cx="378.30" cy="544.88" r="3.00" fill="#21908c"/>
<circle cx="541.50" cy="544.88" r="3.00" fill="#21908c"/>
<line x1="390.90" y1="552.96" x2="525.20" y2="552.96" stroke="#5dc863" stroke-width="1.9" />
<circle cx="390.90" cy="552.96" r="3.00" fill="#5dc863"/>
<circle cx="525.20" cy="552.96" r="3.00" fill="#5dc863"/>
<line x1="378.30" y1="561.03" x2="518.90" y2="561.03" stroke="#5dc863" stroke-width="1.9" />
<circle cx="378.30" cy="561.03" r="3.00" fill="#5dc863"/>
<circle cx="518.90" cy="561.03" r="3.00" fill="#5dc863"/>
<line x1="378.30" y1="569.11" x2="507.70" y2="569.11" stroke="#fde725" stroke-width="1.9" />
<circle cx="378.30" cy="569.11" r="3.00" fill="#fde725"/>
<circle cx="507.70" cy="569.11" r="3.00" fill="#fde725"/>
<line x1="394.10" y1="577.18" x2="505.80" y2="577.18" stroke="#5dc863" stroke-width="1.9" />
<rect x="391.15" y="574.23" width="5.90" height="5.90" fill="#5dc863"/>
<rect x="502.85" y="574.23" width="5.90" height="5.90" fill="#5dc863"/>
<line x1="378.30" y1="585.26" x2="498.50" y2="585.26" stroke="#fde725" stroke-width="1.9" />
<circle cx="378.30" cy="585.26" r="3.00" fill="#fde725"/>
<circle cx="498.50" cy="585.26" r="3.00" fill="#fde725"/>
<line x1="378.30" y1="593.33" x2="496.70" y2="593.33" stroke="#21908c" stroke-width="1.9" />
<circle cx="378.30" cy="593.33" r="3.00" fill="#21908c"/>
<circle cx="496.70" cy="593.33" r="3.00" fill="#21908c"/>
<line x1="417.00" y1="601.41" x2="483.10" y2="601.41" stroke="#21908c" stroke-width="1.9" />
<polygon points="417.00,597.21 420.64,603.50 413.36,603.50" fill="#21908c"/>
<polygon points="483.10,597.21 486.74,603.50 479.46,603.50" fill="#21908c"/>
<line x1="393.80" y1="609.48" x2="442.30" y2="609.48" stroke="#fde725" stroke-width="1.9" />
<circle cx="393.80" cy="609.48" r="3.00" fill="#fde725"/>
<circle cx="442.30" cy="609.48" r="3.00" fill="#fde725"/>
<line x1="367.50" y1="1.20" x2="367.50" y2="78.80" stroke="#1a1a1a" stroke-width="1.0" />
<line x1="364.50" y1="40.00" x2="367.50" y2="40.00" stroke="#1a1a1a" stroke-width="0.9" />
<text transform="translate(362.40,43.50) scale(1,1.06)" font-size="9.8" text-anchor="end" fill="#141414" font-weight="normal" stroke="#141414" stroke-width="0.08" >8</text>
<line x1="367.50" y1="90.73" x2="367.50" y2="168.33" stroke="#1a1a1a" stroke-width="1.0" />
<line x1="364.50" y1="129.53" x2="367.50" y2="129.53" stroke="#1a1a1a" stroke-width="0.9" />
<text transform="translate(362.40,133.03) scale(1,1.06)" font-size="9.8" text-anchor="end" fill="#141414" font-weight="normal" stroke="#141414" stroke-width="0.08" >7</text>
<line x1="367.50" y1="180.26" x2="367.50" y2="257.86" stroke="#1a1a1a" stroke-width="1.0" />
<line x1="364.50" y1="219.06" x2="367.50" y2="219.06" stroke="#1a1a1a" stroke-width="0.9" />
<text transform="translate(362.40,222.56) scale(1,1.06)" font-size="9.8" text-anchor="end" fill="#141414" font-weight="normal" stroke="#141414" stroke-width="0.08" >6</text>
<line x1="367.50" y1="269.79" x2="367.50" y2="347.39" stroke="#1a1a1a" stroke-width="1.0" />
<line x1="364.50" y1="308.59" x2="367.50" y2="308.59" stroke="#1a1a1a" stroke-width="0.9" />
<text transform="translate(362.40,312.09) scale(1,1.06)" font-size="9.8" text-anchor="end" fill="#141414" font-weight="normal" stroke="#141414" stroke-width="0.08" >5</text>
<line x1="367.50" y1="359.32" x2="367.50" y2="436.92" stroke="#1a1a1a" stroke-width="1.0" />
<line x1="364.50" y1="398.12" x2="367.50" y2="398.12" stroke="#1a1a1a" stroke-width="0.9" />
<text transform="translate(362.40,401.62) scale(1,1.06)" font-size="9.8" text-anchor="end" fill="#141414" font-weight="normal" stroke="#141414" stroke-width="0.08" >4</text>
<line x1="367.50" y1="448.85" x2="367.50" y2="526.45" stroke="#1a1a1a" stroke-width="1.0" />
<line x1="364.50" y1="487.65" x2="367.50" y2="487.65" stroke="#1a1a1a" stroke-width="0.9" />
<text transform="translate(362.40,491.15) scale(1,1.06)" font-size="9.8" text-anchor="end" fill="#141414" font-weight="normal" stroke="#141414" stroke-width="0.08" >3</text>
<line x1="367.50" y1="538.38" x2="367.50" y2="616.40" stroke="#1a1a1a" stroke-width="1.0" />
<line x1="364.50" y1="577.18" x2="367.50" y2="577.18" stroke="#1a1a1a" stroke-width="0.9" />
<text transform="translate(362.40,580.68) scale(1,1.06)" font-size="9.8" text-anchor="end" fill="#141414" font-weight="normal" stroke="#141414" stroke-width="0.08" >2</text>
<line x1="367.00" y1="615.90" x2="607.40" y2="615.90" stroke="#1a1a1a" stroke-width="1.0" />
<line x1="378.20" y1="615.90" x2="378.20" y2="618.90" stroke="#1a1a1a" stroke-width="0.9" />
<text transform="translate(378.20,627.80) scale(1,1.0)" font-size="9.0" text-anchor="middle" fill="#141414" font-weight="normal" stroke="#141414" stroke-width="0.08" >0</text>
<line x1="393.88" y1="615.90" x2="393.88" y2="618.90" stroke="#1a1a1a" stroke-width="0.9" />
<text transform="translate(393.88,627.80) scale(1,1.0)" font-size="9.0" text-anchor="middle" fill="#141414" font-weight="normal" stroke="#141414" stroke-width="0.08" >1</text>
<line x1="431.89" y1="615.90" x2="431.89" y2="618.90" stroke="#1a1a1a" stroke-width="0.9" />
<text transform="translate(431.89,627.80) scale(1,1.0)" font-size="9.0" text-anchor="middle" fill="#141414" font-weight="normal" stroke="#141414" stroke-width="0.08" >5</text>
<line x1="453.57" y1="615.90" x2="453.57" y2="618.90" stroke="#1a1a1a" stroke-width="0.9" />
<text transform="translate(453.57,627.80) scale(1,1.0)" font-size="9.0" text-anchor="middle" fill="#141414" font-weight="normal" stroke="#141414" stroke-width="0.08" >10</text>
<line x1="505.72" y1="615.90" x2="505.72" y2="618.90" stroke="#1a1a1a" stroke-width="0.9" />
<text transform="translate(505.72,627.80) scale(1,1.0)" font-size="9.0" text-anchor="middle" fill="#141414" font-weight="normal" stroke="#141414" stroke-width="0.08" >50</text>
<line x1="528.30" y1="615.90" x2="528.30" y2="618.90" stroke="#1a1a1a" stroke-width="0.9" />
<text transform="translate(528.30,627.80) scale(1,1.0)" font-size="9.0" text-anchor="middle" fill="#141414" font-weight="normal" stroke="#141414" stroke-width="0.08" >100</text>
<line x1="558.17" y1="615.90" x2="558.17" y2="618.90" stroke="#1a1a1a" stroke-width="0.9" />
<text transform="translate(558.17,627.80) scale(1,1.0)" font-size="9.0" text-anchor="middle" fill="#141414" font-weight="normal" stroke="#141414" stroke-width="0.08" >250</text>
<line x1="603.35" y1="615.90" x2="603.35" y2="618.90" stroke="#1a1a1a" stroke-width="0.9" />
<text transform="translate(603.35,627.80) scale(1,1.0)" font-size="9.0" text-anchor="middle" fill="#141414" font-weight="normal" stroke="#141414" stroke-width="0.08" >1000</text>
<text transform="translate(487.45,641.00) scale(1,1.0)" font-size="11.4" text-anchor="middle" fill="#000" font-weight="normal" stroke="#000" stroke-width="0.08" >Turbidity (NTU)</text>
<text transform="translate(352.3,308.2) rotate(-90) scale(1,1.05)" font-size="11.4" text-anchor="middle" fill="#000" stroke="#000" stroke-width="0.08">Turbidity levels</text>
<text transform="translate(619.50,239.90) scale(1,1.0)" font-size="11.4" text-anchor="start" fill="#000" font-weight="normal" stroke="#000" stroke-width="0.08" >Material</text>
<line x1="625.00" y1="247.60" x2="625.00" y2="258.00" stroke="#fde725" stroke-width="1.9" />
<circle cx="625.00" cy="252.80" r="3.40" fill="#fde725"/>
<text transform="translate(637.20,256.80) scale(1,1.12)" font-size="9.7" text-anchor="start" fill="#141414" font-weight="normal" stroke="#141414" stroke-width="0.08" >algae</text>
<line x1="625.00" y1="260.15" x2="625.00" y2="270.55" stroke="#5dc863" stroke-width="1.9" />
<circle cx="625.00" cy="265.35" r="3.40" fill="#5dc863"/>
<text transform="translate(637.20,269.35) scale(1,1.12)" font-size="9.7" text-anchor="start" fill="#141414" font-weight="normal" stroke="#141414" stroke-width="0.08" >kaolinite</text>
<line x1="625.00" y1="272.70" x2="625.00" y2="283.10" stroke="#21908c" stroke-width="1.9" />
<circle cx="625.00" cy="277.90" r="3.40" fill="#21908c"/>
<text transform="translate(637.20,281.90) scale(1,1.12)" font-size="9.7" text-anchor="start" fill="#141414" font-weight="normal" stroke="#141414" stroke-width="0.08" >bentonite</text>
<line x1="625.00" y1="285.25" x2="625.00" y2="295.65" stroke="#3b528b" stroke-width="1.9" />
<circle cx="625.00" cy="290.45" r="3.40" fill="#3b528b"/>
<text transform="translate(637.20,294.45) scale(1,1.12)" font-size="9.7" text-anchor="start" fill="#141414" font-weight="normal" stroke="#141414" stroke-width="0.08" >calcarenite</text>
<line x1="625.00" y1="297.80" x2="625.00" y2="308.20" stroke="#440154" stroke-width="1.9" />
<circle cx="625.00" cy="303.00" r="3.40" fill="#440154"/>
<text transform="translate(637.20,307.00) scale(1,1.12)" font-size="9.7" text-anchor="start" fill="#141414" font-weight="normal" stroke="#141414" stroke-width="0.08" >sediments</text>
<text transform="translate(619.30,330.20) scale(1,1.0)" font-size="11.4" text-anchor="start" fill="#000" font-weight="normal" stroke="#000" stroke-width="0.08" >Number of</text>
<text transform="translate(619.30,341.60) scale(1,1.0)" font-size="11.4" text-anchor="start" fill="#000" font-weight="normal" stroke="#000" stroke-width="0.08" >experiments</text>
<circle cx="625.10" cy="355.60" r="3.30" fill="#000"/>
<polygon points="625.1,363.6 629.1,370.4 621.1,370.4" fill="#000"/>
<rect x="622.20" y="377.50" width="5.80" height="5.80" fill="#000"/>
<text transform="translate(637.50,359.30) scale(1,1.06)" font-size="9.7" text-anchor="start" fill="#141414" font-weight="normal" stroke="#141414" stroke-width="0.08" >1</text>
<text transform="translate(637.50,371.50) scale(1,1.06)" font-size="9.7" text-anchor="start" fill="#141414" font-weight="normal" stroke="#141414" stroke-width="0.08" >2</text>
<text transform="translate(637.50,384.10) scale(1,1.06)" font-size="9.7" text-anchor="start" fill="#141414" font-weight="normal" stroke="#141414" stroke-width="0.08" >3</text>
<g id="icons">
<!-- benthic -->
<path d="M141.6,577.4 C145,575.4 150,574.7 156,574.5 C160,574.4 163,575.3 164.6,577.2" fill="none" stroke="#d24f28" stroke-width="2.5" stroke-linecap="round"/>
<path d="M142.2,578.6 L141.6,579.8 M144.8,577.6 L144.6,578.9 M163.8,577.6 L164.8,578.6" stroke="#d24f28" stroke-width="0.7"/>
<path d="M137.4,578.6 C135.5,582 134.6,586 136,589 C137.5,592 139.5,594 137,596 C134,598 130.5,599.5 132.5,602 C134.5,604.5 138.5,606 140.3,608.8" fill="none" stroke="#d9846f" stroke-width="1.25" stroke-linecap="round"/>
<path d="M148.6,586.8 L153,581.6" stroke="#3b2a16" stroke-width="2.1" stroke-linecap="round"/>
<path d="M148.4,587 L145.6,590.2 M153,581.6 L154.6,579.8 M149.6,584 L147,583.2 M151.6,584.6 L154,586" stroke="#cfbf9a" stroke-width="0.5"/>
<ellipse cx="149.6" cy="602" rx="3.6" ry="5.4" fill="none" stroke="#4e2513" stroke-width="1.5" transform="rotate(35 149.6 602)"/>
<ellipse cx="156.8" cy="598.8" rx="3.2" ry="7" fill="none" stroke="#4e2513" stroke-width="1.5" transform="rotate(18 156.8 598.8)"/>
<path d="M146.5,607.6 Q151,609.4 155.5,607.2" fill="none" stroke="#4e2513" stroke-width="1.4"/>
<path d="M159.5,605.2 Q163,604.2 166.2,600.6" fill="none" stroke="#a87a50" stroke-width="1"/>
<!-- bentho pelagic -->
<path d="M176.6,589.6 C176.2,584 178,578.5 182.8,575" fill="none" stroke="#efc27a" stroke-width="2.4" stroke-linecap="round"/>
<path d="M176.6,585.8 L176.6,590.2" stroke="#7a8b8a" stroke-width="1.5"/>
<ellipse cx="189" cy="576" rx="7.2" ry="2.7" fill="#f0c47c" transform="rotate(10 189 576)"/>
<ellipse cx="195.6" cy="577.6" rx="2.6" ry="1.9" fill="#e8b86c"/>
<path d="M184.5,578.8 Q190,580.6 195.5,579.6" fill="none" stroke="#7f9a9a" stroke-width="1"/>
<circle cx="197.6" cy="577.5" r="1" fill="#2b2b2b"/>
<path d="M198,578.5 Q200,580 200.8,583.5 M198,578.8 Q199,585 201.5,591" fill="none" stroke="#8aa0a0" stroke-width="0.5"/>
<path d="M182.3,590.4 Q188,589 195,589.4 Q203,590.2 212.3,590.4" fill="none" stroke="#d8b680" stroke-width="2.2" stroke-linecap="round"/>
<path d="M193,589.8 Q199,590.4 206,590.4" fill="none" stroke="#6e8a8e" stroke-width="1.6"/>
<circle cx="186.5" cy="589.6" r="1.2" fill="#c09a60"/>
<path d="M186,592 L184.5,594.5 M188,592 L187.5,595 M190,592 L191,594.5" stroke="#b5b5b5" stroke-width="0.5"/>
<path d="M177.6,601.8 Q182,600 187.7,599.6 Q193,599.4 197,601.4 Q202,602.2 206.2,601.2" fill="none" stroke="#ac7848" stroke-width="3.3" stroke-linecap="round"/>
<path d="M181,601.6 Q188,600.4 196,601.6" fill="none" stroke="#c49466" stroke-width="1"/>
<!-- pelagic -->
<path d="M234.8,577 Q237,574.4 242,574.2 Q248,573.8 252.5,574.4 Q254.6,575 255,577" fill="none" stroke="#5f6463" stroke-width="2.4" stroke-linecap="round"/>
<path d="M249,574.2 Q251.5,574 253,575" stroke="#b8a070" stroke-width="0.8" fill="none"/>
<path d="M223.6,579.6 L228.6,584.6 M224,585 L228.2,579.8" stroke="#8a8a8a" stroke-width="0.8"/>
<ellipse cx="226.2" cy="582.2" rx="1.4" ry="1.9" fill="#c8884a" transform="rotate(-40 226.2 582.2)"/>
<path d="M238.5,580.4 Q245,579.2 251.5,580.4" fill="none" stroke="#a8c0c8" stroke-width="0.5"/>
<ellipse cx="245.3" cy="583.8" rx="1.5" ry="2.8" fill="#e0a040"/>
<circle cx="245.3" cy="582" r="1" fill="#d84830"/>
<path d="M245.3,586.5 L245.3,591" stroke="#a8c4d8" stroke-width="1.2"/>
<ellipse cx="231" cy="591.3" rx="3.2" ry="5.3" fill="#d6c08e" transform="rotate(30 231 591.3)"/>
<ellipse cx="230.5" cy="592.3" rx="1.6" ry="3" fill="#a8885a" transform="rotate(30 230.5 592.3)"/>
<path d="M234,585.5 L236.5,582.8 M234.5,586 L237,585" stroke="#d8d0c0" stroke-width="0.6"/>
<ellipse cx="247.8" cy="597" rx="2.7" ry="3.6" fill="#e8702a" transform="rotate(-25 247.8 597)"/>
<path d="M249,599.5 L251.2,603.5 L253.2,609.6 L255.4,605.6 L258,604.6 L252.8,602.6 Z" fill="#ee8236"/>
<path d="M250.6,596 L253.4,594.8 M246.2,594 L245,592.6" stroke="#e8702a" stroke-width="1.1"/>
<ellipse cx="235" cy="603.7" rx="7.2" ry="3.8" fill="#b4b88a"/>
<ellipse cx="235.6" cy="605.2" rx="6" ry="1.8" fill="#e2d27e"/>
<path d="M228.2,603.7 L225.2,600.5 L225.6,607 Z" fill="#7d8860"/>
<path d="M231,600.6 Q236,598.8 240,601" fill="none" stroke="#6f7f5e" stroke-width="1.2"/>
<circle cx="240.4" cy="603.6" r="0.9" fill="#455060"/>
<!-- surface -->
<ellipse cx="271.6" cy="579.2" rx="2.8" ry="1.3" fill="#efe6d4" transform="rotate(-35 271.6 579.2)"/>
<ellipse cx="278.6" cy="575.4" rx="2.8" ry="1.3" fill="#efe6d4" transform="rotate(-35 278.6 575.4)"/>
<ellipse cx="275" cy="577.4" rx="1.6" ry="3.1" fill="#c47a3c" transform="rotate(-30 275 577.4)"/>
<circle cx="273.6" cy="575" r="1" fill="#8a4a2a"/>
<ellipse cx="299.6" cy="578.8" rx="5.4" ry="3.2" fill="#9a8a84" transform="rotate(-15 299.6 578.8)"/>
<ellipse cx="301" cy="578" rx="3.6" ry="1.8" fill="#cfc6c2" transform="rotate(-15 301 578)"/>
<circle cx="294.6" cy="580.6" r="1.9" fill="#b8452c"/>
<path d="M295,582.5 L296,585 M297,582.5 L298.6,584.6 M293.5,578.5 L292.5,576.5" stroke="#7a6050" stroke-width="0.5"/>
<ellipse cx="281" cy="585.2" rx="5.8" ry="3" fill="#958681" transform="rotate(18 281 585.2)"/>
<ellipse cx="279.8" cy="584.4" rx="4" ry="1.8" fill="#cdc3bf" transform="rotate(18 279.8 584.4)"/>
<circle cx="285.9" cy="586.9" r="1.9" fill="#bd4a30"/>
<path d="M284,589 L283,591.5 M286,589 L286.5,591.5" stroke="#7a6050" stroke-width="0.5"/>
<ellipse cx="279.4" cy="600.2" rx="7.4" ry="2.5" fill="#efe6d0" transform="rotate(-6 279.4 600.2)"/>
<ellipse cx="293.2" cy="600.2" rx="7.4" ry="2.5" fill="#efe6d0" transform="rotate(6 293.2 600.2)"/>
<ellipse cx="286.3" cy="604.4" rx="2.4" ry="4" fill="#c58543"/>
<ellipse cx="286.3" cy="598.8" rx="2.8" ry="2.6" fill="#cb8a4a"/>
<ellipse cx="286.3" cy="595.8" rx="2.5" ry="1.3" fill="#b5553a"/>
<ellipse cx="286.3" cy="607.8" rx="1.3" ry="0.9" fill="#4a3020"/>
<path d="M284.6,604 L281,609 M288,604 L291.5,609 M284.3,600.5 L280.5,603.5 M288.3,600.5 L292,603.5 M285,594.8 L283.5,592.5 M287.6,594.8 L289,592.5" stroke="#d9c49a" stroke-width="0.5"/>
</g>

</svg>
</body></html>
